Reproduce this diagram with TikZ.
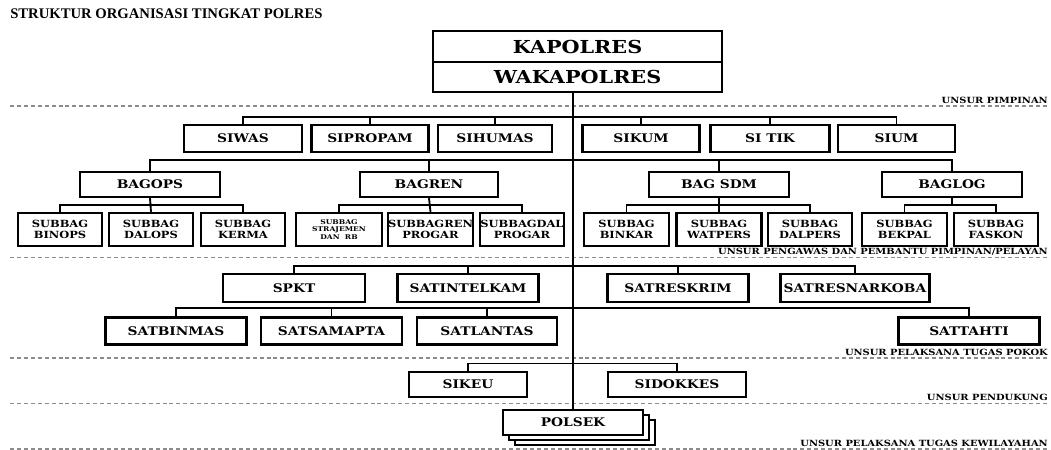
\documentclass[tikz,border=0pt]{standalone}
\usepackage{fontspec}
\setmainfont{Liberation Serif}
\newfontfamily\orgfont{DejaVu Serif}[FakeStretch=1.16]
\usetikzlibrary{positioning}
\tikzset{
    % boxes of the chart
    orgbox/.style={
           draw,
           line width=1.8pt,
           fill=white,
           inner sep=0pt,
           align=center,
           font=\orgfont\bfseries\fontsize{8.9}{10}\selectfont},
    subbox/.style={
           orgbox,
           font=\orgfont\bfseries\fontsize{7.4}{8.4}\selectfont},
    % width and height in pixels
    boxsize/.style 2 args={minimum width=#1*0.75pt, minimum height=#2*0.75pt},
    % connectors
    link/.style={line width=1.4pt},
    % separators between the levels
    zoneline/.style={black!45, line width=0.8pt, dash pattern=on 3pt off 2.2pt},
    zonelabel/.style={anchor=base east, inner sep=0pt,
           font=\orgfont\bfseries\fontsize{6.4}{7}\selectfont}
}
\begin{document}
\begin{tikzpicture}[x=0.75pt, y=-0.75pt]

\useasboundingbox (0,0) rectangle (1051,450);

% title
\node [anchor=base west, inner sep=0pt, font=\bfseries\fontsize{11}{12}\selectfont]
      (title) at (10,18) {STRUKTUR ORGANISASI TINGKAT POLRES};

% separators
\draw [zoneline] (10,106) -- (1048,106);
\draw [zoneline] (10,257.5) -- (1048,257.5);
\draw [zoneline] (10,358) -- (1048,358);
\draw [zoneline] (10,403.5) -- (1048,403.5);
\draw [zoneline] (10,449) -- (1048,449);

\node [zonelabel] (zpimpinan) at (1048,103) {UNSUR PIMPINAN};
\node [zonelabel] (zpengawas) at (1048,254.5) {UNSUR PENGAWAS DAN PEMBANTU PIMPINAN/PELAYAN};
\node [zonelabel] (zpokok) at (1048,355) {UNSUR PELAKSANA TUGAS POKOK};
\node [zonelabel] (zpendukung) at (1048,400.5) {UNSUR PENDUKUNG};
\node [zonelabel] (zwilayah) at (1048,446) {UNSUR PELAKSANA TUGAS KEWILAYAHAN};

% bus heights
\coordinate (bus1) at (0,117);
\coordinate (bus2) at (0,159.7);
\coordinate (bus3) at (0,204.6);
\coordinate (bus4) at (0,266);
\coordinate (bus5) at (0,308);
\coordinate (bus6) at (0,363.5);

% polsek (stacked)
\node [orgbox, boxsize={140}{25}] (polsek3) at (585,432.5) {};
\node [orgbox, boxsize={140}{25}] (polsek2) at (579,427.5) {};
\node [orgbox, boxsize={140}{25}] (polsek) at (573,422.5) {POLSEK};

% pimpinan
\node [orgbox, boxsize={289}{31}, font=\orgfont\bfseries\fontsize{13.4}{15}\selectfont]
      (kapolres) at (577.5,46.5) {KAPOLRES};
\node [orgbox, boxsize={289}{30}, font=\orgfont\bfseries\fontsize{13.4}{15}\selectfont]
      (wakapolres) at (577.5,77) {WAKAPOLRES};

% trunk
\draw [link] (wakapolres.south -| polsek.north) -- (polsek.north);

% pengawas and pembantu pimpinan
\node [orgbox, boxsize={118}{27}] (siwas) at (243,138.5) {SIWAS};
\node [orgbox, boxsize={117}{27}] (sipropam) at (370,138.5) {SIPROPAM};
\node [orgbox, boxsize={114}{27}] (sihumas) at (495,138.5) {SIHUMAS};
\node [orgbox, boxsize={117}{27}] (sikum) at (641,138.5) {SIKUM};
\node [orgbox, boxsize={119}{27}] (sitik) at (770,138.5) {SI TIK};
\node [orgbox, boxsize={117}{27}] (sium) at (896.5,138.5) {SIUM};

\draw [link] (siwas.north) |- (sium.north |- bus1) -- (sium.north);
\foreach \n in {sipropam, sihumas, sikum, sitik}
    \draw [link] (\n.north) -- (\n.north |- bus1);

\node [orgbox, boxsize={140}{25}] (bagops) at (150,184.5) {BAGOPS};
\node [orgbox, boxsize={138}{25}] (bagren) at (429,184.5) {BAGREN};
\node [orgbox, boxsize={140}{25}] (bagsdm) at (719,184.5) {BAG SDM};
\node [orgbox, boxsize={140}{25}] (baglog) at (952,184.5) {BAGLOG};

\draw [link] (bagops.north) |- (baglog.north |- bus2) -- (baglog.north);
\foreach \n in {bagren, bagsdm}
    \draw [link] (\n.north) -- (\n.north |- bus2);

% subbag
\node [subbox, boxsize={84}{33}] (binops) at (60,229.5) {SUBBAG\\BINOPS};
\node [subbox, boxsize={84}{33}] (dalops) at (151,229.5) {SUBBAG\\DALOPS};
\node [subbox, boxsize={84}{33}] (kerma) at (243,229.5) {SUBBAG\\KERMA};
\node [subbox, boxsize={86}{33}, font=\orgfont\bfseries\fontsize{4.9}{5.6}\selectfont]
      (strajemen) at (339,229.5) {SUBBAG\\STRAJEMEN\\DAN\ \ RB};
\node [subbox, boxsize={85}{33}] (progar) at (430.5,229.5) {SUBBAGREN\\PROGAR};
\node [subbox, boxsize={84}{33}] (dalprogar) at (522,229.5) {SUBBAGDAL\\PROGAR};
\node [subbox, boxsize={85}{33}] (binkar) at (626.5,229.5) {SUBBAG\\BINKAR};
\node [subbox, boxsize={85}{33}] (watpers) at (719,229.5) {SUBBAG\\WATPERS};
\node [subbox, boxsize={84}{33}] (dalpers) at (810,229.5) {SUBBAG\\DALPERS};
\node [subbox, boxsize={85}{33}] (bekpal) at (904.5,229.5) {SUBBAG\\BEKPAL};
\node [subbox, boxsize={84}{33}] (faskon) at (996,229.5) {SUBBAG\\FASKON};

\draw [link] (binops.north) |- (kerma.north |- bus3) -- (kerma.north);
\draw [link] (strajemen.north) |- (dalprogar.north |- bus3) -- (dalprogar.north);
\draw [link] (binkar.north) |- (dalpers.north |- bus3) -- (dalpers.north);
\draw [link] (bekpal.north) |- (faskon.north |- bus3) -- (faskon.north);
\foreach \p/\c in {bagops/dalops, bagren/progar, bagsdm/watpers}
    \draw [link] (\p.south) -- (\c.north);
\draw [link] (baglog.south) -- (baglog.south |- bus3);

% pelaksana tugas pokok
\node [orgbox, boxsize={142}{28}] (spkt) at (294,288) {SPKT};
\node [orgbox, boxsize={141}{28}] (satintelkam) at (468,288) {SATINTELKAM};
\node [orgbox, boxsize={141}{28}] (satreskrim) at (678,288) {SATRESKRIM};
\node [orgbox, boxsize={149}{28}] (satresnarkoba) at (855,288) {SATRESNARKOBA};

\draw [link] (spkt.north) |- (satresnarkoba.north |- bus4) -- (satresnarkoba.north);
\foreach \n in {satintelkam, satreskrim}
    \draw [link] (\n.north) -- (\n.north |- bus4);

\node [orgbox, boxsize={141}{27}] (satbinmas) at (176,331) {SATBINMAS};
\node [orgbox, boxsize={141}{27}] (satsamapta) at (331.5,331) {SATSAMAPTA};
\node [orgbox, boxsize={140}{27}] (satlantas) at (487,331) {SATLANTAS};
\node [orgbox, boxsize={141}{27}] (sattahti) at (969,331) {SATTAHTI};

\draw [link] (satbinmas.north) |- (sattahti.north |- bus5) -- (sattahti.north);
\foreach \n in {satsamapta, satlantas}
    \draw [link] (\n.north) -- (\n.north |- bus5);

% pendukung
\node [orgbox, boxsize={118}{25}] (sikeu) at (468,384.5) {SIKEU};
\node [orgbox, boxsize={138}{25}] (sidokkes) at (677,384.5) {SIDOKKES};

\draw [link] (sikeu.north) |- (sidokkes.north |- bus6) -- (sidokkes.north);

\end{tikzpicture}
\end{document}
